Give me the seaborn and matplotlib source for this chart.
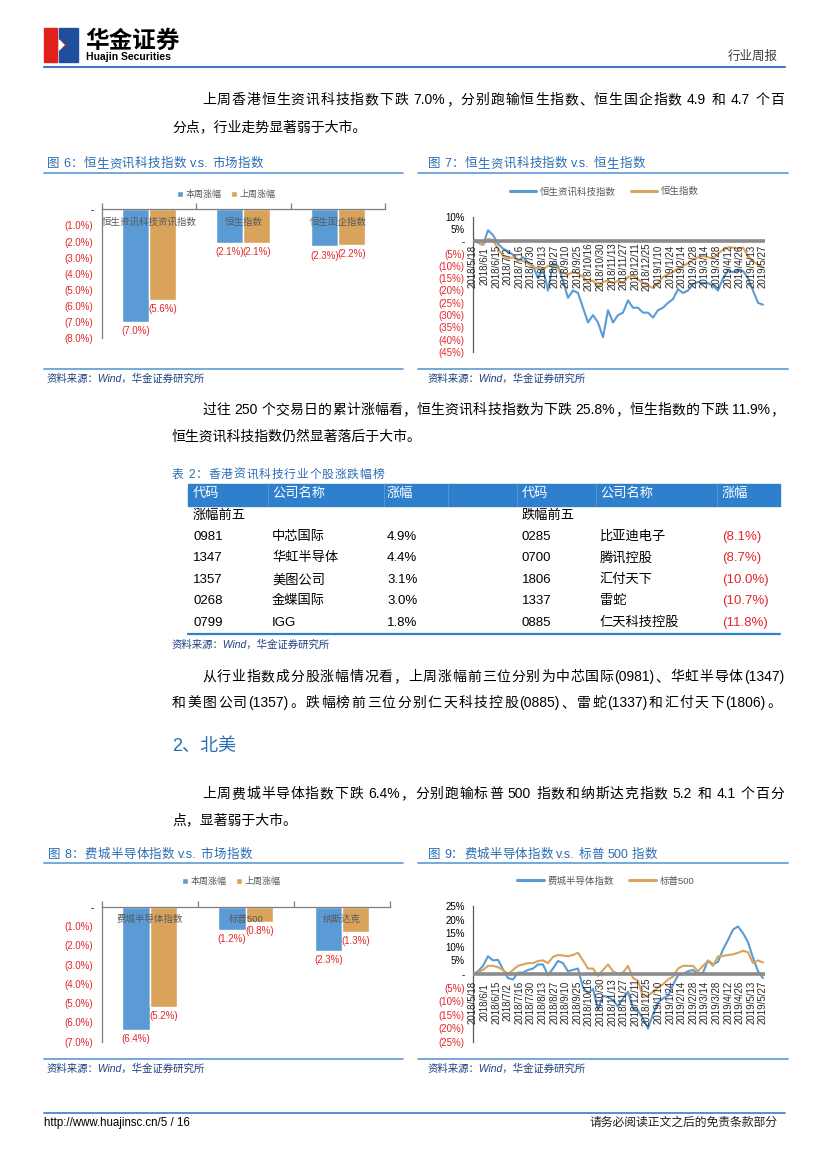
import re
import matplotlib
matplotlib.use("Agg")
import numpy as np
import pandas as pd
import matplotlib.pyplot as plt
import matplotlib.patches as mpatches
from matplotlib.lines import Line2D
import seaborn as sns

sns.set_style("white")
plt.rcParams["font.family"] = ["Liberation Sans", "Noto Sans CJK SC", "DejaVu Sans"]
plt.rcParams["axes.unicode_minus"] = False

W, H = 827, 1169
BLUE = "#5b9bd5"
GOLD = "#d9a35b"
RED = "#e3262b"
TITLE_BLUE = "#2a6db5"
SRC_BLUE = "#1f3f80"
AXIS_GRAY = "#7f7f7f"

# ---- chart data ----
bar_series = ["本周涨幅", "上周涨幅"]

hk_bar_cats = ["恒生资讯科技资讯指数", "恒生指数", "恒生国企指数"]
hk_this_week = [-7.0, -2.1, -2.3]
hk_last_week = [-5.6, -2.1, -2.2]

us_bar_cats = ["费城半导体指数", "标普500", "纳斯达克"]
us_this_week = [-6.4, -1.2, -2.3]
us_last_week = [-5.2, -0.8, -1.3]

date_labels = ["2018/5/18", "2018/6/1", "2018/6/15", "2018/7/2", "2018/7/16", "2018/7/30",
               "2018/8/13", "2018/8/27", "2018/9/10", "2018/9/25", "2018/10/16", "2018/10/30",
               "2018/11/13", "2018/11/27", "2018/12/11", "2018/12/25", "2019/1/10", "2019/1/24",
               "2019/2/14", "2019/2/28", "2019/3/14", "2019/3/28", "2019/4/12", "2019/4/26",
               "2019/5/13", "2019/5/27"]

hk_line_names = ["恒生资讯科技指数", "恒生指数"]
hstech = [0, -0.5, -1.5, 4.5, 2.5, -1, -3, -4, -5.5, -8,
          -6.5, -8.5, -10, -15, -11, -20, -9, -10, -16, -23,
          -20, -21, -27, -33, -30, -33, -39, -28, -33, -30,
          -29, -24, -27, -27, -29, -29, -31, -28, -27, -25,
          -23.5, -19.5, -21, -20, -17.5, -16.5, -17, -17, -18, -20,
          -15, -12, -12.5, -12, -12, -15, -20, -25, -25.8]
hsi = [1, -0.5, -1.5, 1, 0.5, -3, -6, -7, -6.5, -7.5,
       -8, -9, -10.5, -11, -11.5, -10, -10, -11, -13, -13.5,
       -12.5, -13, -14.5, -16.5, -16, -18.5, -16.5, -16, -17, -16,
       -17, -14.5, -14, -15.5, -17, -18, -19, -17, -14.5, -13.5,
       -12.5, -11, -10, -9, -7.5, -6.5, -6, -6.5, -7, -5,
       -3.5, -2.5, -2.5, -3, -2.5, -6, -8, -9.5, -10.5]

us_line_names = ["费城半导体指数", "标普500"]
sox = [0, 1, 3, 6.5, 5, 5.2, 1.7, -1.5, -2, 0.5,
       0.5, 1.5, 2, 3.5, 3.5, -0.5, 2, 4.8, 4, 1,
       1.5, 2, -5, -7, -5.5, -13, -8, -8.5, -9.5, -12,
       -9, -6.5, -12.5, -13.5, -16.5, -20, -14.8, -10.5, -9, -8,
       -4, -0.5, 0, 1, 1.5, 0, 0.5, 5, 3.5, 4.5,
       9, 12.5, 16.3, 17.5, 15, 11.7, 6, 1, -1.5]
spx = [0.3, 0.5, 1.5, 3, 3, 2.5, 1.5, 0, 1.5, 3,
       3.5, 4, 4, 4.8, 5, 4, 6.3, 7, 6.8, 6.5,
       7, 7.8, 5, 2, 2, -0.7, 1.5, 3.5, 1, 0,
       0.5, 3, -1.5, -2.5, -8.5, -8, -6.5, -5, -3.8, -2,
       -1, 2, 3, 3, 3, 1, 3, 4.8, 3, 6.5,
       6.6, 7, 7.2, 7.8, 8.5, 8, 4, 5, 4.2]

# ---- table data ----
table_cols = ["代码", "公司名称", "涨幅"]
gain_codes = ["0981", "1347", "1357", "0268", "0799"]
gain_names = ["中芯国际", "华虹半导体", "美图公司", "金蝶国际", "IGG"]
gain_pct = [4.9, 4.4, 3.1, 3.0, 1.8]
loss_codes = ["0285", "0700", "1806", "1337", "0885"]
loss_names = ["比亚迪电子", "腾讯控股", "汇付天下", "雷蛇", "仁天科技控股"]
loss_pct = [-8.1, -8.7, -10.0, -10.7, -11.8]

fig = plt.figure(figsize=(W / 100, H / 100), dpi=100)


def fx(x):
    return x / W


def fy(y):
    return 1 - y / H


def box(x0, y0, x1, y1):
    return [x0 / W, 1 - y1 / H, (x1 - x0) / W, (y1 - y0) / H]


def put(x, y, s, size=9, color="black", ha="left", va="center", **kw):
    return fig.text(fx(x), fy(y), s, fontsize=size, color=color, ha=ha, va=va, **kw)


def hline(x0, x1, y, color, lw):
    fig.add_artist(Line2D([fx(x0), fx(x1)], [fy(y), fy(y)], transform=fig.transFigure,
                          color=color, lw=lw))


def spread(s, x0, x1, y, size, color="black", **kw):
    # justified line: spread tokens evenly from x0 to x1
    r = fig.canvas.get_renderer()
    toks = re.findall(r"[A-Za-z0-9.%()/]+|\s|.", s)
    arts, widths = [], []
    for t in toks:
        if t.isspace():
            arts.append(None)
            widths.append(size * 0.35)
        else:
            a = put(0, y, t, size, color, **kw)
            arts.append(a)
            widths.append(a.get_window_extent(r).width)
    gap = (x1 - x0 - sum(widths)) / max(len(toks) - 1, 1)
    x = x0
    for a, w in zip(arts, widths):
        if a is not None:
            a.set_x(fx(x))
        x += w + gap


def pct_label(v, dec):
    if v == 0:
        return "-"
    txt = f"{abs(v):.{dec}f}%"
    return f"({txt})" if v < 0 else txt


def bar_panel(rect, cats, this_wk, last_wk, ymin, leg_x, leg_gap):
    ax = fig.add_axes(box(*rect))
    df = pd.DataFrame({"cat": cats * 2, "val": this_wk + last_wk,
                       "series": [bar_series[0]] * len(cats) + [bar_series[1]] * len(cats)})
    sns.barplot(data=df, x="cat", y="val", hue="series", palette=[BLUE, GOLD],
                width=0.57, gap=0, saturation=1, ax=ax)
    ax.set_xlim(-0.5, len(cats) - 0.5)
    ax.set_ylim(ymin, 0)
    ax.set_xlabel("")
    ax.set_ylabel("")
    for s in ["right", "bottom"]:
        ax.spines[s].set_visible(False)
    for s in ["top", "left"]:
        ax.spines[s].set_color(AXIS_GRAY)
        ax.spines[s].set_linewidth(0.9)
    ax.xaxis.set_ticks_position("top")
    ax.set_xticks(np.arange(len(cats) + 1) - 0.5)
    ax.set_xticklabels([])
    ax.tick_params(axis="x", direction="out", length=4, color=AXIS_GRAY, width=0.9)
    yt = list(range(0, ymin - 1, -1))
    ax.set_yticks(yt)
    ax.set_yticklabels([pct_label(v, 1) for v in yt], fontsize=7)
    ax.tick_params(axis="y", direction="out", length=3, color=AXIS_GRAY, width=0.9, pad=3)
    for lbl, v in zip(ax.get_yticklabels(), yt):
        lbl.set_color(RED if v < 0 else "black")
    for i, c in enumerate(cats):
        ax.annotate(c, (i, 0), xytext=(0, -13), textcoords="offset pixels", ha="center",
                    va="center", fontsize=6.8, color="#595959")
    for cont in ax.containers:
        ax.bar_label(cont, labels=[pct_label(v, 1) for v in cont.datavalues], padding=3,
                     color=RED, fontsize=7)
    handles, labels = ax.get_legend_handles_labels()
    h_px = rect[3] - rect[1]
    ax.legend(handles, labels, loc="center", bbox_to_anchor=(leg_x, 1 + leg_gap / h_px),
              ncol=2, frameon=False, fontsize=6.5, handlelength=0.7, handleheight=0.7,
              handletextpad=0.3, columnspacing=1.0, labelcolor="#595959")
    return ax


def line_panel(rect, names, s1, s2, ylo, yhi, step, lab_off, leg_x):
    ax = fig.add_axes(box(*rect))
    n = len(s1)
    df = pd.DataFrame({"idx": list(range(n)) * 2, "val": s1 + s2,
                       "series": [names[0]] * n + [names[1]] * n})
    sns.lineplot(data=df, x="idx", y="val", hue="series", palette=[BLUE, GOLD],
                 linewidth=1.5, ax=ax)
    ax.axhline(0, color="#8c8c8c", lw=2.6, zorder=3)
    ax.set_xlim(0, n - 0.6)
    ax.set_ylim(ylo, yhi)
    ax.set_xlabel("")
    ax.set_ylabel("")
    ax.set_xticks([])
    for s in ["right", "bottom", "top"]:
        ax.spines[s].set_visible(False)
    ax.spines["left"].set_color("#595959")
    ax.spines["left"].set_linewidth(0.9)
    yt = list(range(yhi, ylo - 1, -step))
    ax.set_yticks(yt)
    ax.set_yticklabels([pct_label(v, 0) for v in yt], fontsize=7)
    ax.tick_params(axis="y", direction="out", length=3, color="#595959", width=0.9, pad=3)
    for lbl, v in zip(ax.get_yticklabels(), yt):
        lbl.set_color(RED if v < 0 else "black")
    pos = np.linspace(0, n - 1, len(date_labels))
    for p, d in zip(pos, date_labels):
        ax.annotate(d, (p, 0), xytext=(0, -lab_off), textcoords="offset pixels", rotation=90,
                    ha="center", va="center", fontsize=7, zorder=4)
    handles, labels = ax.get_legend_handles_labels()
    h_px = rect[3] - rect[1]
    ax.legend(handles, labels, loc="center", bbox_to_anchor=(leg_x, 1 + 25 / h_px),
              ncol=2, frameon=False, fontsize=6.8, handlelength=2.8, handletextpad=0.4,
              columnspacing=1.6, labelcolor="#595959")
    for lh in ax.get_legend().get_lines():
        lh.set_linewidth(2.2)
    return ax


# ---- page header ----
fig.add_artist(mpatches.Rectangle((fx(44), fy(62)), 13 / W, 34 / H, color="#e0201b",
                                  transform=fig.transFigure))
fig.add_artist(mpatches.Rectangle((fx(59), fy(62)), 19 / W, 34 / H, color="#1f4e9c",
                                  transform=fig.transFigure))
fig.add_artist(mpatches.Polygon([(fx(57), fy(40)), (fx(66), fy(45)), (fx(57), fy(50))],
                                color="#e0201b", transform=fig.transFigure))
fig.add_artist(mpatches.Polygon([(fx(59), fy(40)), (fx(64), fy(45)), (fx(59), fy(50))],
                                color="white", transform=fig.transFigure))
put(85, 41, "华金证券", 17, "black", fontweight="bold")
put(86, 57, "Huajin Securities", 7.5, "black", fontweight="bold")
put(778, 57, "行业周报", 9, "#404040", ha="right")
hline(44, 785, 67, "#3e7cc0", 1.5)

# ---- paragraph 1 ----
spread("上周香港恒生资讯科技指数下跌 7.0%，分别跑输恒生指数、恒生国企指数 4.9 和 4.7 个百",
       202, 784, 100, 10)
put(172, 127, "分点，行业走势显著弱于大市。", 10)

# ---- figure 6 / 7 ----
spread("图 6：恒生资讯科技指数 v.s. 市场指数", 47, 263, 164, 9, TITLE_BLUE)
spread("图 7：恒生资讯科技指数 v.s. 恒生指数", 428, 645, 164, 9, TITLE_BLUE)
hline(44, 403, 173, BLUE, 1.2)
hline(418, 788, 173, BLUE, 1.2)
bar_panel((101.7, 209.3, 385, 338.3), hk_bar_cats, hk_this_week, hk_last_week, -8, 0.44, 15)
line_panel((473, 216.7, 765, 352), hk_line_names, hstech, hsi, -45, 10, 5, 25, 0.45)
hline(44, 403, 369, BLUE, 1.2)
hline(418, 788, 369, BLUE, 1.2)
put(47, 379, "资料来源：Wind，华金证券研究所", 7.5, SRC_BLUE, style="italic")
put(428, 379, "资料来源：Wind，华金证券研究所", 7.5, SRC_BLUE, style="italic")

# ---- paragraph 2 ----
spread("过往 250 个交易日的累计涨幅看，恒生资讯科技指数为下跌 25.8%，恒生指数的下跌 11.9%，",
       202, 784, 410, 10)
put(172, 437, "恒生资讯科技指数仍然显著落后于大市。", 10)

# ---- table ----
spread("表 2：香港资讯科技行业个股涨跌幅榜", 172, 384, 475, 8.5, TITLE_BLUE)
fig.add_artist(mpatches.Rectangle((fx(188), fy(506)), (780 - 188) / W, 22 / H, color="#2f80cc",
                                  transform=fig.transFigure))
for xs in [268, 384, 448, 517, 596, 717]:
    fig.add_artist(Line2D([fx(xs), fx(xs)], [fy(484), fy(506)], transform=fig.transFigure,
                          color="#5d9bd8", lw=0.6))
col_x = [193, 272, 387, 522, 600, 722]
for cx, name in zip(col_x, table_cols * 2):
    put(cx, 494, name, 9.5, "white")
put(193, 516, "涨幅前五", 9.5)
put(522, 516, "跌幅前五", 9.5)
row_y = [537, 558, 580, 601, 623]
for ry, gc, gn, gp, lc, ln, lp in zip(row_y, gain_codes, gain_names, gain_pct,
                                      loss_codes, loss_names, loss_pct):
    put(col_x[0], ry, gc, 9.5)
    put(col_x[1], ry, gn, 9.5)
    put(col_x[2], ry, pct_label(gp, 1), 9.5)
    put(col_x[3], ry, lc, 9.5)
    put(col_x[4], ry, ln, 9.5)
    put(col_x[5], ry, pct_label(lp, 1), 9.5, RED)
hline(188, 780, 634, "#2f80cc", 1.6)
put(172, 645, "资料来源：Wind，华金证券研究所", 7.5, SRC_BLUE, style="italic")

# ---- paragraph 3 ----
spread("从行业指数成分股涨幅情况看，上周涨幅前三位分别为中芯国际(0981)、华虹半导体(1347)",
       202, 784, 677, 10)
spread("和美图公司(1357)。跌幅榜前三位分别仁天科技控股(0885)、雷蛇(1337)和汇付天下(1806)。",
       172, 781, 703, 10)

put(172, 746, "2、北美", 13, TITLE_BLUE)

# ---- paragraph 4 ----
spread("上周费城半导体指数下跌 6.4%，分别跑输标普 500 指数和纳斯达克指数 5.2 和 4.1 个百分",
       202, 784, 794, 10)
put(172, 820, "点，显著弱于大市。", 10)

# ---- figure 8 / 9 ----
spread("图 8：费城半导体指数 v.s. 市场指数", 48, 252, 855, 9, TITLE_BLUE)
spread("图 9：费城半导体指数 v.s. 标普 500 指数", 428, 657, 855, 9, TITLE_BLUE)
hline(44, 403, 863, BLUE, 1.2)
hline(418, 788, 863, BLUE, 1.2)
bar_panel((101.7, 906.7, 390, 1041.7), us_bar_cats, us_this_week, us_last_week, -7, 0.45, 25)
line_panel((473, 906, 765, 1042), us_line_names, sox, spx, -25, 25, 5, 28, 0.455)
hline(44, 403, 1059, BLUE, 1.2)
hline(418, 788, 1059, BLUE, 1.2)
put(47, 1069, "资料来源：Wind，华金证券研究所", 7.5, SRC_BLUE, style="italic")
put(428, 1069, "资料来源：Wind，华金证券研究所", 7.5, SRC_BLUE, style="italic")

# ---- footer ----
hline(44, 785, 1113, "#3e7cc0", 1.2)
put(44, 1123, "http://www.huajinsc.cn/5 / 16", 8.3)
put(778, 1123, "请务必阅读正文之后的免责条款部分", 8.5, "#202020", ha="right")

fig.savefig("out.png", dpi=100)
